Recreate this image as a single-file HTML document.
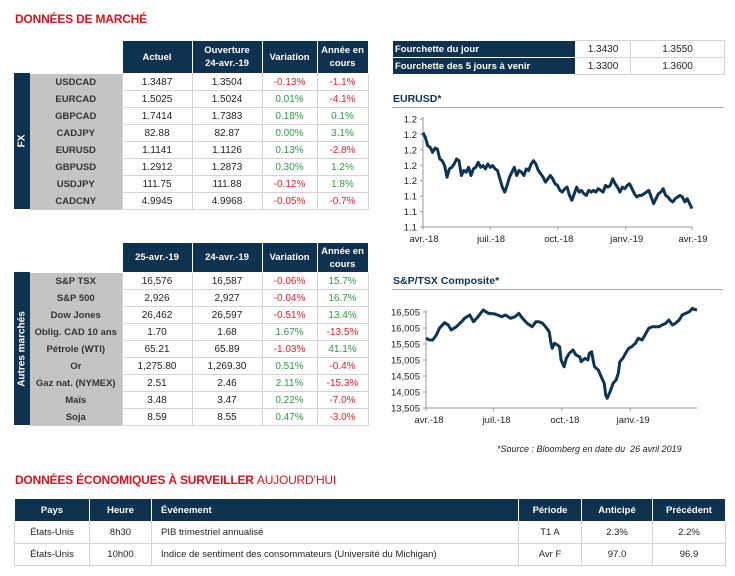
<!DOCTYPE html>
<html><head><meta charset="utf-8">
<style>
body{margin:0;width:735px;height:576px;background:#fff;position:relative;overflow:hidden;font-family:"Liberation Sans",sans-serif;color:#222}
.abs{position:absolute}
.title{color:#d7141d;font-weight:bold;font-size:12px;letter-spacing:-0.2px}
table{border-collapse:collapse;position:absolute;table-layout:fixed;font-size:10px}
td,th{padding:0;text-align:center;white-space:nowrap;overflow:hidden}
th{background:#0e3250;color:#fff;font-weight:bold;border:1px solid #fff;line-height:13px;font-size:9.5px}
td{border:1px solid #d4d4d4}
td.lbl{background:#c4c4c6;border:none;font-weight:bold;color:#333;font-size:9.5px}
.r{color:#e8202a}.g{color:#2e9a48}
.band{background:#0e3250;color:#fff;font-weight:bold;font-size:10px}
.chart-title{color:#0e3250;font-weight:bold;font-size:10.5px}
</style></head><body>
<div class="abs title" style="left:15px;top:12px">DONNÉES DE MARCHÉ</div>

<div class="abs band" style="left:14px;top:73px;width:16px;height:136px"><div style="position:absolute;left:50%;top:50%;transform:translate(-50%,-50%) rotate(-90deg)">FX</div></div>
<table style="left:30px;top:40px;width:338px">
<colgroup><col style="width:92px"><col style="width:70px"><col style="width:70px"><col style="width:55px"><col style="width:51px"></colgroup>
<tr style="height:33px"><td style="border:none"></td><th>Actuel</th><th>Ouverture<br>24-avr.-19</th><th>Variation</th><th>Année en<br>cours</th></tr>
<tr style="height:17px"><td class="lbl">USDCAD</td><td>1.3487</td><td>1.3504</td><td class="r">-0.13%</td><td class="r">-1.1%</td></tr>
<tr style="height:17px"><td class="lbl">EURCAD</td><td>1.5025</td><td>1.5024</td><td class="g">0.01%</td><td class="r">-4.1%</td></tr>
<tr style="height:17px"><td class="lbl">GBPCAD</td><td>1.7414</td><td>1.7383</td><td class="g">0.18%</td><td class="g">0.1%</td></tr>
<tr style="height:17px"><td class="lbl">CADJPY</td><td>82.88</td><td>82.87</td><td class="g">0.00%</td><td class="g">3.1%</td></tr>
<tr style="height:17px"><td class="lbl">EURUSD</td><td>1.1141</td><td>1.1126</td><td class="g">0.13%</td><td class="r">-2.8%</td></tr>
<tr style="height:17px"><td class="lbl">GBPUSD</td><td>1.2912</td><td>1.2873</td><td class="g">0.30%</td><td class="g">1.2%</td></tr>
<tr style="height:17px"><td class="lbl">USDJPY</td><td>111.75</td><td>111.88</td><td class="r">-0.12%</td><td class="g">1.8%</td></tr>
<tr style="height:17px"><td class="lbl">CADCNY</td><td>4.9945</td><td>4.9968</td><td class="r">-0.05%</td><td class="r">-0.7%</td></tr>
</table>

<div class="abs band" style="left:14px;top:272px;width:16px;height:153px"><div style="position:absolute;left:50%;top:50%;transform:translate(-50%,-50%) rotate(-90deg);white-space:nowrap">Autres marchés</div></div>
<table style="left:30px;top:242px;width:338px">
<colgroup><col style="width:92px"><col style="width:70px"><col style="width:70px"><col style="width:55px"><col style="width:51px"></colgroup>
<tr style="height:30px"><td style="border:none"></td><th>25-avr.-19</th><th>24-avr.-19</th><th>Variation</th><th>Année en<br>cours</th></tr>
<tr style="height:17px"><td class="lbl">S&amp;P TSX</td><td>16,576</td><td>16,587</td><td class="r">-0.06%</td><td class="g">15.7%</td></tr>
<tr style="height:17px"><td class="lbl">S&amp;P 500</td><td>2,926</td><td>2,927</td><td class="r">-0.04%</td><td class="g">16.7%</td></tr>
<tr style="height:17px"><td class="lbl">Dow Jones</td><td>26,462</td><td>26,597</td><td class="r">-0.51%</td><td class="g">13.4%</td></tr>
<tr style="height:17px"><td class="lbl">Oblig. CAD 10 ans</td><td>1.70</td><td>1.68</td><td class="g">1.67%</td><td class="r">-13.5%</td></tr>
<tr style="height:17px"><td class="lbl">Pétrole (WTI)</td><td>65.21</td><td>65.89</td><td class="r">-1.03%</td><td class="g">41.1%</td></tr>
<tr style="height:17px"><td class="lbl">Or</td><td>1,275.80</td><td>1,269.30</td><td class="g">0.51%</td><td class="r">-0.4%</td></tr>
<tr style="height:17px"><td class="lbl">Gaz nat. (NYMEX)</td><td>2.51</td><td>2.46</td><td class="g">2.11%</td><td class="r">-15.3%</td></tr>
<tr style="height:17px"><td class="lbl">Maïs</td><td>3.48</td><td>3.47</td><td class="g">0.22%</td><td class="r">-7.0%</td></tr>
<tr style="height:17px"><td class="lbl">Soja</td><td>8.59</td><td>8.55</td><td class="g">0.47%</td><td class="r">-3.0%</td></tr>
</table>

<table style="left:392px;top:40px;width:332px">
<colgroup><col style="width:183px"><col style="width:55px"><col style="width:94px"></colgroup>
<tr style="height:17px"><th style="text-align:left;padding-left:2px">Fourchette du jour</th><td>1.3430</td><td>1.3550</td></tr>
<tr style="height:17px"><th style="text-align:left;padding-left:2px">Fourchette des 5 jours à venir</th><td>1.3300</td><td>1.3600</td></tr>
</table>

<div class="abs chart-title" style="left:393px;top:93px">EURUSD*</div>
<div class="abs" style="left:392px;top:107px;width:331px;height:1px;background:#aaa"></div>
<div class="abs chart-title" style="left:393px;top:275px">S&amp;P/TSX Composite*</div>
<div class="abs" style="left:392px;top:289px;width:331px;height:1px;background:#aaa"></div>
<div class="abs" style="left:497px;top:444px;font-size:9px;font-style:italic">*Source : Bloomberg en date du &nbsp;26 avril 2019</div>

<svg class="abs" style="left:0;top:0" width="735" height="576" id="charts"></svg>

<div class="abs title" style="left:15px;top:473px">DONNÉES ÉCONOMIQUES À SURVEILLER <span style="font-weight:normal">AUJOURD’HUI</span></div>
<table style="left:14px;top:498px;width:711px;font-size:9.5px">
<colgroup><col style="width:75px"><col style="width:62px"><col style="width:367px"><col style="width:63px"><col style="width:71px"><col style="width:73px"></colgroup>
<tr style="height:23px"><th>Pays</th><th>Heure</th><th style="text-align:left;padding-left:9px">Événement</th><th>Période</th><th>Anticipé</th><th>Précédent</th></tr>
<tr style="height:22px"><td>États-Unis</td><td>8h30</td><td style="text-align:left;padding-left:9px">PIB trimestriel annualisé</td><td>T1 A</td><td>2.3%</td><td>2.2%</td></tr>
<tr style="height:22px"><td>États-Unis</td><td>10h00</td><td style="text-align:left;padding-left:9px">Indice de sentiment des consommateurs (Université du Michigan)</td><td>Avr F</td><td>97.0</td><td>96.9</td></tr>
</table>

<script>
const eurTicks=[1.10,1.12,1.14,1.16,1.18,1.20,1.22,1.24];
const eurTickLabels=["1.1","1.1","1.1","1.2","1.2","1.2","1.2","1.2"];
const eurMonths=["avr.-18","juil.-18","oct.-18","janv.-19","avr.-19"];
const eurMonthDays=[0,91,183,275,365];
const eurValues=[1.2224,1.2160,1.2053,1.2032,1.1967,1.2023,1.2010,1.1881,1.1860,1.1796,1.1646,1.1753,1.1774,1.1817,1.1881,1.1860,1.1667,1.1732,1.1710,1.1774,1.1667,1.1753,1.1774,1.1839,1.1774,1.1796,1.1753,1.1817,1.1774,1.1796,1.1753,1.1732,1.1625,1.1517,1.1453,1.1539,1.1646,1.1710,1.1774,1.1667,1.1732,1.1710,1.1667,1.1753,1.1732,1.1817,1.1860,1.1817,1.1732,1.1689,1.1646,1.1582,1.1625,1.1667,1.1625,1.1560,1.1539,1.1475,1.1453,1.1496,1.1517,1.1410,1.1346,1.1432,1.1517,1.1453,1.1475,1.1432,1.1410,1.1475,1.1453,1.1475,1.1453,1.1496,1.1475,1.1453,1.1539,1.1517,1.1539,1.1625,1.1560,1.1517,1.1453,1.1517,1.1496,1.1539,1.1560,1.1496,1.1432,1.1389,1.1410,1.1410,1.1432,1.1453,1.1475,1.1389,1.1303,1.1367,1.1432,1.1453,1.1496,1.1410,1.1389,1.1346,1.1325,1.1367,1.1389,1.1410,1.1389,1.1325,1.1367,1.1303,1.1239];

const tsxTicks=[13505,14005,14505,15005,15505,16005,16505];
const tsxTickLabels=["13,505","14,005","14,505","15,005","15,505","16,005","16,505"];
const tsxMonths=["avr.-18","juil.-18","oct.-18","janv.-19"];
const tsxMonthDays=[0,91,183,275];
const tsxDays=[0,5,9,14,18,25,30,34,41,48,52,59,64,70,77,84,93,102,107,114,120,125,130,136,143,148,152,157,161,166,168,170,173,177,180,182,186,189,193,198,202,207,209,214,218,220,223,225,227,232,236,240,242,244,248,252,256,259,261,265,270,273,277,282,286,291,295,300,305,309,314,318,323,327,332,336,341,345,350,355,359,361,365];
const tsxValues=[15682,15630,15630,15786,15995,16172,16099,15942,16047,16203,16307,16411,16203,16359,16568,16463,16442,16359,16411,16307,16359,16463,16307,16151,16047,16203,16203,16151,16047,15890,15578,15370,15526,15474,15422,15005,14797,15057,15213,15317,15161,15109,14953,15057,15005,15213,15265,15005,14797,14692,14484,14276,13911,13807,14015,14276,14380,14588,14953,15057,15265,15370,15422,15526,15682,15630,15786,15995,16047,16047,16047,16099,16151,16255,16099,16151,16255,16411,16463,16516,16620,16588,16568];

const NS="http://www.w3.org/2000/svg";
const svg=document.getElementById('charts');
function mk(tag,attrs,parent){const e=document.createElementNS(NS,tag);for(const k in attrs)e.setAttribute(k,attrs[k]);(parent||svg).appendChild(e);return e;}

function drawChart(o){
  const g=mk('g',{});
  
  
  const y=v=>o.y1-(v-o.vmin)/(o.vmax-o.vmin)*(o.y1-o.y0);
  const x=d=>o.x0+d/365*(o.x1-o.x0);
  mk('line',{x1:o.x0,y1:o.y0-2,x2:o.x0,y2:o.y1,stroke:'#999','stroke-width':1},g);
  mk('line',{x1:o.x0,y1:o.y1,x2:o.x1,y2:o.y1,stroke:'#999','stroke-width':1},g);
  o.ticks.forEach((t,i)=>{
    mk('line',{x1:o.x0-3,y1:y(t),x2:o.x0,y2:y(t),stroke:'#999'},g);
    const tx=mk('text',{x:o.x0-6,y:y(t)+3.5,'text-anchor':'end','font-size':'9.5','font-family':'Liberation Sans, sans-serif',fill:'#222'},g);
    tx.textContent=o.tickLabels[i];
    
    
  });
  o.months.forEach((m,i)=>{
    const xx=x(o.monthDays[i]);
    mk('line',{x1:xx,y1:o.y1,x2:xx,y2:o.y1+3,stroke:'#999'},g);
    const tx=mk('text',{x:xx+o.labelShift,y:o.y1+15,'text-anchor':'middle','font-size':'9.5','font-family':'Liberation Sans, sans-serif',fill:'#222'},g);
    tx.textContent=m;
    
    
  });
  const pts=o.values.map((v,i)=>x(o.days?o.days[i]:i*365/(o.values.length-1)).toFixed(1)+','+y(v).toFixed(1)).join(' ');
  const pl=mk('polyline',{points:pts,fill:'none',stroke:'#0d3553','stroke-width':3,'stroke-linejoin':'round'},g);
  
  
}
drawChart({name:'eurusd-chart',x0:423,x1:692,y0:119,y1:227,vmin:1.10,vmax:1.24,ticks:eurTicks,tickLabels:eurTickLabels,months:eurMonths,monthDays:eurMonthDays,values:eurValues,labelShift:1});
drawChart({name:'tsx-chart',x0:426,x1:697,y0:312,y1:408,vmin:13505,vmax:16505,ticks:tsxTicks,tickLabels:tsxTickLabels,months:tsxMonths,monthDays:tsxMonthDays,values:tsxValues,days:tsxDays,labelShift:3});
</script>
</body></html>
